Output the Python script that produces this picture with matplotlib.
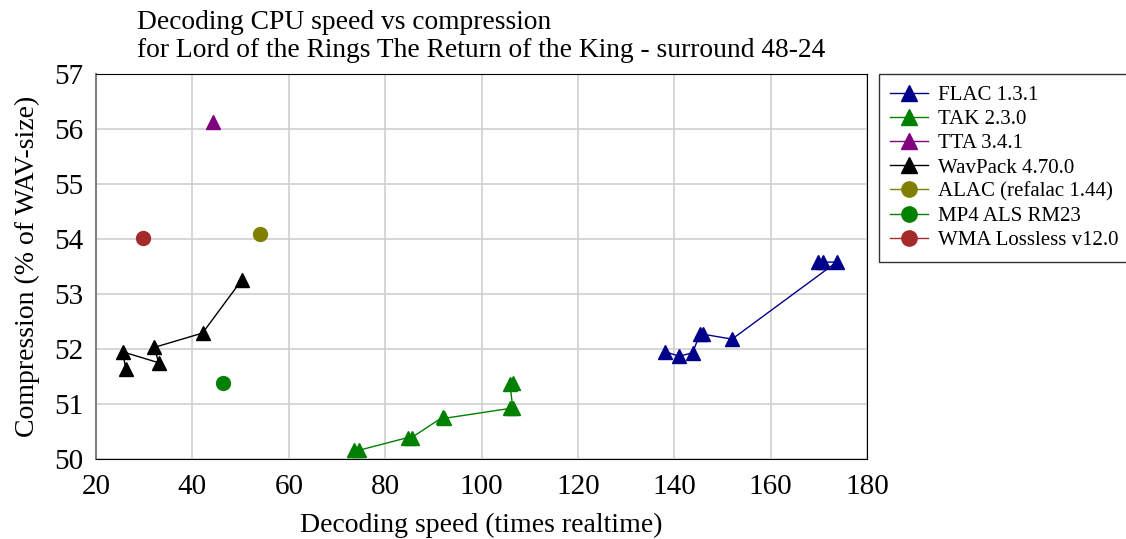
import matplotlib
matplotlib.use("Agg")
import matplotlib.pyplot as plt

plt.rcParams['font.family'] = ['Liberation Serif', 'DejaVu Serif']

# decoding speed (times realtime) / compression (% of WAV size)
flac_speed = [138.1, 141.0, 143.8, 145.3, 145.9, 152.0, 173.7, 170.8, 169.8]
flac_comp = [51.95, 51.87, 51.93, 52.27, 52.27, 52.18, 53.58, 53.58, 53.58]

tak_speed = [73.5, 74.6, 84.7, 85.5, 91.9, 92.3, 105.9, 106.5, 105.9, 106.5]
tak_comp = [50.16, 50.16, 50.39, 50.39, 50.76, 50.74, 50.92, 50.92, 51.36, 51.38]

tta_speed = [44.2]
tta_comp = [56.12]

wavpack_speed = [26.2, 25.5, 33.0, 32.1, 42.1, 50.2]
wavpack_comp = [51.63, 51.95, 51.75, 52.03, 52.29, 53.25]

alac_speed = [54.0]
alac_comp = [54.10]

als_speed = [46.3]
als_comp = [51.39]

wma_speed = [29.75]
wma_comp = [54.02]

fig = plt.figure(figsize=(11.26, 5.39), dpi=100)
ax = fig.add_axes([0.0853, 0.1484, 0.770 - 0.0853, 0.8627 - 0.1484])

ax.plot(flac_speed, flac_comp, color='#00008b', marker='^', ms=10, lw=1, label='FLAC 1.3.1')
ax.plot(tak_speed, tak_comp, color='#008000', marker='^', ms=10, lw=1, label='TAK 2.3.0')
ax.plot(tta_speed, tta_comp, color='#800080', marker='^', ms=10, lw=1, label='TTA 3.4.1')
ax.plot(wavpack_speed, wavpack_comp, color='black', marker='^', ms=10, lw=1, label='WavPack 4.70.0')
ax.plot(alac_speed, alac_comp, color='#808000', marker='o', ms=10, lw=1, label='ALAC (refalac 1.44)')
ax.plot(als_speed, als_comp, color='#008000', marker='o', ms=10, lw=1, label='MP4 ALS RM23')
ax.plot(wma_speed, wma_comp, color='#a52a2a', marker='o', ms=10, lw=1, label='WMA Lossless v12.0')

ax.set_xlim(20, 180)
ax.set_ylim(50, 57)
ax.set_xticks(range(20, 181, 20))
ax.set_yticks(range(50, 58))
ax.grid(True, color='#d0d0d0', lw=1.2)
ax.set_axisbelow(True)
ax.tick_params(length=0, labelsize=21)
ax.tick_params(axis='x', pad=11)
ax.tick_params(axis='y', pad=9)
for s in ['top', 'right', 'bottom']:
    ax.spines[s].set_color('black')
ax.spines['left'].set_color('#808080')
ax.spines['left'].set_linewidth(1.5)

ax.set_xlabel('Decoding speed (times realtime)', fontsize=20, labelpad=9)
ax.set_ylabel('Compression (% of WAV-size)', fontsize=20, labelpad=10)
ax.set_title('Decoding CPU speed vs compression\n'
             'for Lord of the Rings The Return of the King - surround 48-24',
             fontsize=19.8, ma='left', pad=12, linespacing=1.2)

leg = ax.legend(loc='upper left', bbox_to_anchor=(1.015, 1.0), fontsize=15,
                frameon=True, fancybox=False, edgecolor='black',
                borderaxespad=0, handlelength=1.8, labelspacing=0.22,
                borderpad=0.55, handletextpad=0.5, markerscale=1.1)
leg.get_frame().set_linewidth(1.0)

fig.savefig('out.png', dpi=100)
